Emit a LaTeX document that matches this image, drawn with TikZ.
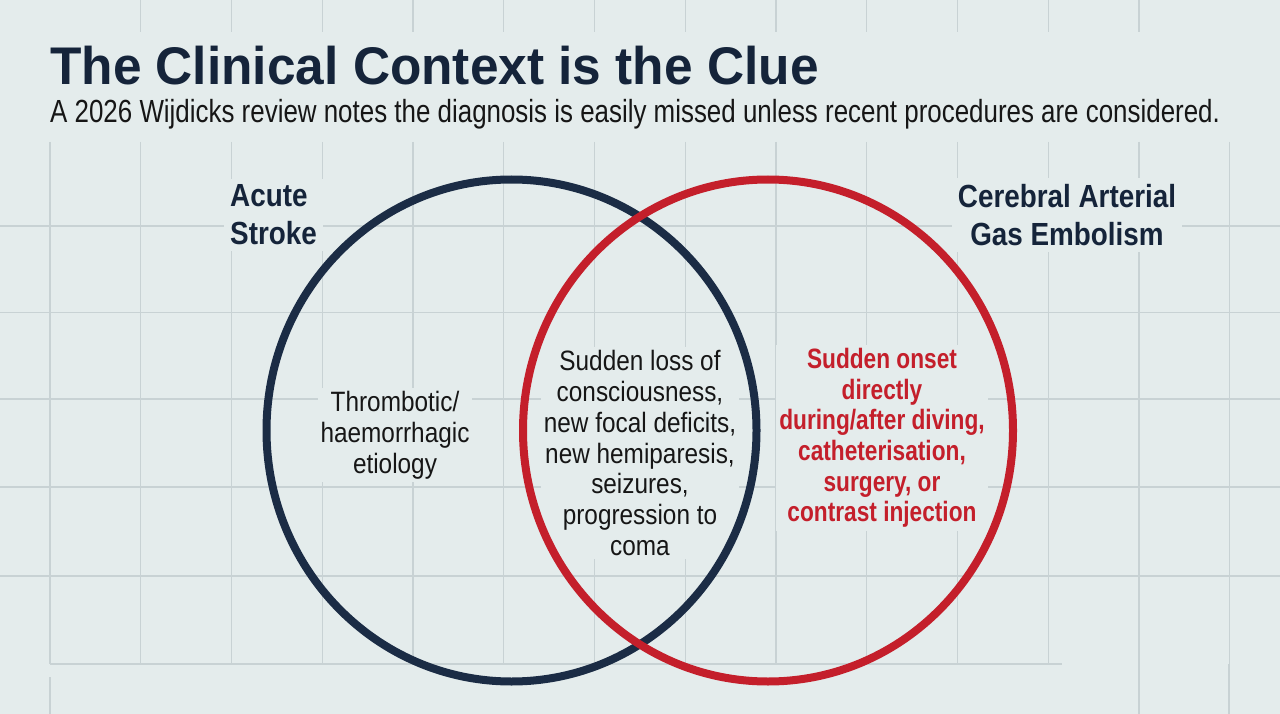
\documentclass[tikz,border=0pt]{standalone}
\usepackage{fontspec}
\setmainfont{Liberation Sans}
\newfontfamily\titlefont[FakeStretch=0.97]{Liberation Sans}
\newfontfamily\subfont[FakeStretch=0.81]{Liberation Sans}
\newfontfamily\labfont[FakeStretch=0.87]{Liberation Sans}
\newfontfamily\bodyfont[FakeStretch=0.87]{Liberation Sans}
\newfontfamily\redfont[FakeStretch=0.81]{Liberation Sans}
\definecolor{bg}{HTML}{E4ECEC}
\definecolor{gridc}{HTML}{C8D2D4}
\definecolor{navy}{HTML}{1B2C45}
\definecolor{crim}{HTML}{C41F2B}
\definecolor{ink}{HTML}{15243A}
\definecolor{txt}{HTML}{161616}
\tikzset{
  gridline/.style={draw=gridc, line width=1.4pt},
  setlabel/.style={fill=bg, inner sep=6pt, text=ink, font=\labfont\bfseries\fontsize{32}{38}\selectfont},
  bodytext/.style={fill=bg, inner sep=3pt, align=center, text=txt, font=\bodyfont\fontsize{28}{30.8}\selectfont},
  redtext/.style={fill=bg, inner sep=3pt, align=center, text=crim, font=\redfont\bfseries\fontsize{28}{30.6}\selectfont},
  ring/.style={line width=8pt}
}
\begin{document}
\begin{tikzpicture}[x=1pt,y=-1pt]
\fill[bg] (0,0) rectangle (1280,714);
\useasboundingbox (0,0) rectangle (1280,714);
% grid
\foreach \i in {0,...,13} {
  \draw[gridline] ({50+90.75*\i},142) -- ({50+90.75*\i},664);
}
\foreach \i in {1,...,12} {
  \draw[gridline] ({50+90.75*\i},0) -- ({50+90.75*\i},32);
}
\draw[gridline] (50,677) -- (50,714);
\draw[gridline] (1139,664) -- (1139,714);
\draw[gridline] (1229,664) -- (1229,714);
\foreach \y in {226,312.5,399,487,576} {
  \draw[gridline] (0,\y) -- (1280,\y);
}
\draw[gridline] (50,664) -- (1062,664);
% titles
\node[anchor=base west, inner sep=0pt, text=ink, font=\titlefont\bfseries\fontsize{53}{60}\selectfont] (title) at (50,85) {The Clinical Context is the Clue};
\node[anchor=base west, inner sep=0pt, text=txt, font=\subfont\fontsize{32}{36}\selectfont] (subtitle) at (50,123) {A 2026 Wijdicks review notes the diagnosis is easily missed unless recent procedures are considered.};
% set labels
\node[setlabel, align=left, anchor=west] (lab1) at (224,215) {Acute\\Stroke};
\node[setlabel, align=center] (lab2) at (1067,215) {Cerebral Arterial\\Gas Embolism};
% region texts
\node[bodytext] (left) at (395,435) {Thrombotic/\\haemorrhagic\\etiology};
\node[bodytext] (mid) at (640,453) {Sudden loss of\\consciousness,\\new focal deficits,\\new hemiparesis,\\seizures,\\progression to\\coma};
\node[redtext] (right) at (882,438) {Sudden onset\\directly\\during/after diving,\\catheterisation,\\surgery, or\\contrast injection};
% circles
\draw[ring, navy] (511.5,430.5) ellipse [x radius=245pt, y radius=251pt];
\draw[ring, crim] (768,430.5) ellipse [x radius=245pt, y radius=251pt];
\end{tikzpicture}
\end{document}
